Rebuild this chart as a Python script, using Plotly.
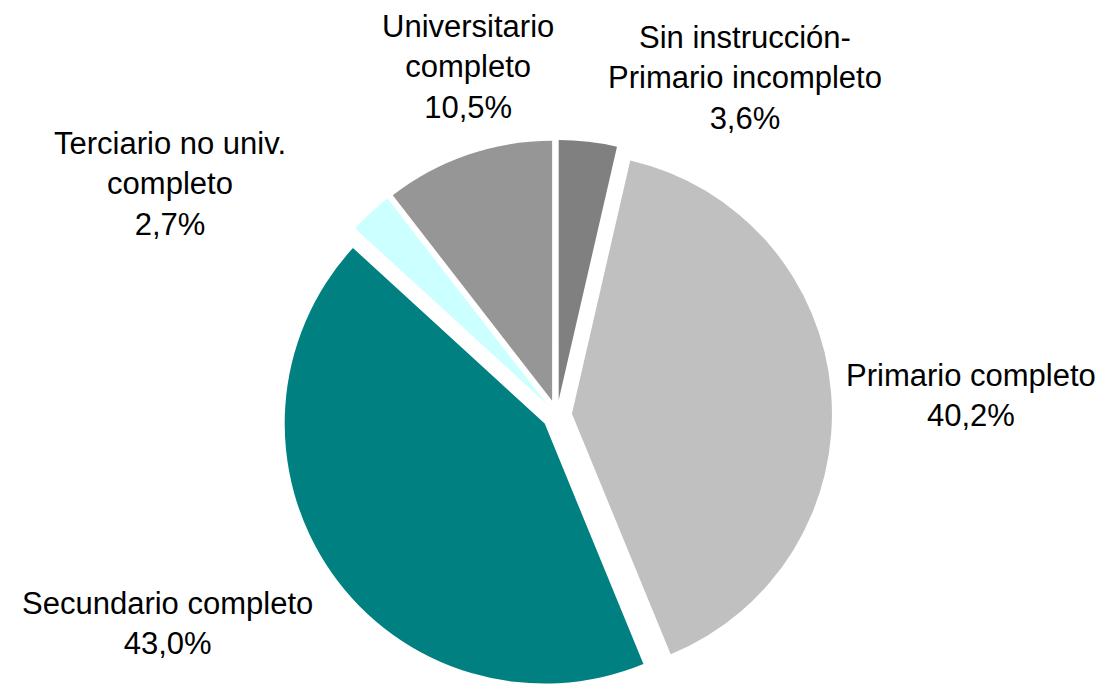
import plotly.graph_objects as go

# data
labels = ["Sin instrucción-<br>Primario incompleto", "Primario completo",
          "Secundario completo", "Terciario no univ.<br>completo",
          "Universitario<br>completo"]
values = [3.6, 40.2, 43.0, 2.7, 10.5]
colors = ["#808080", "#c0c0c0", "#008080", "#ccffff", "#969696"]

W, H = 1106, 689
PAGE = 8  # default body margin of the html page

# label placement in page pixels (center of each text block)
label_pos = [(745, 78), (971, 395), (167, 623), (170, 184), (468, 67)]

# pie geometry in page pixels
cx, cy, r, pull = 557, 415, 260, 0.0577
fx, fy = cx - PAGE, cy - PAGE
ry = r * (1 + pull)
yc = 1 - fy / H
xc = fx / W

fig = go.Figure()
fig.add_trace(go.Pie(
    labels=labels,
    values=values,
    marker=dict(colors=colors, line=dict(width=0)),
    sort=False,
    direction="clockwise",
    rotation=0,
    pull=[pull] * len(values),
    textinfo="none",
    hoverinfo="label+percent",
    showlegend=False,
    domain=dict(x=[xc - 0.26, xc + 0.26], y=[yc - ry / H, yc + ry / H]),
))

for lab, val, (px_, py_) in zip(labels, values, label_pos):
    pct = f"{val:.1f}".replace(".", ",") + "%"
    fig.add_annotation(
        x=(px_ - PAGE) / W, y=1 - (py_ - PAGE) / H, xref="paper", yref="paper",
        text=f"{lab}<br>{pct}",
        showarrow=False, align="center",
        xanchor="center", yanchor="middle",
        font=dict(family="Arial, Liberation Sans", size=31, color="black"),
    )

fig.update_layout(
    width=W, height=H,
    margin=dict(l=0, r=0, t=0, b=0),
    paper_bgcolor="white",
    plot_bgcolor="white",
)

fig.write_html("out.html")
